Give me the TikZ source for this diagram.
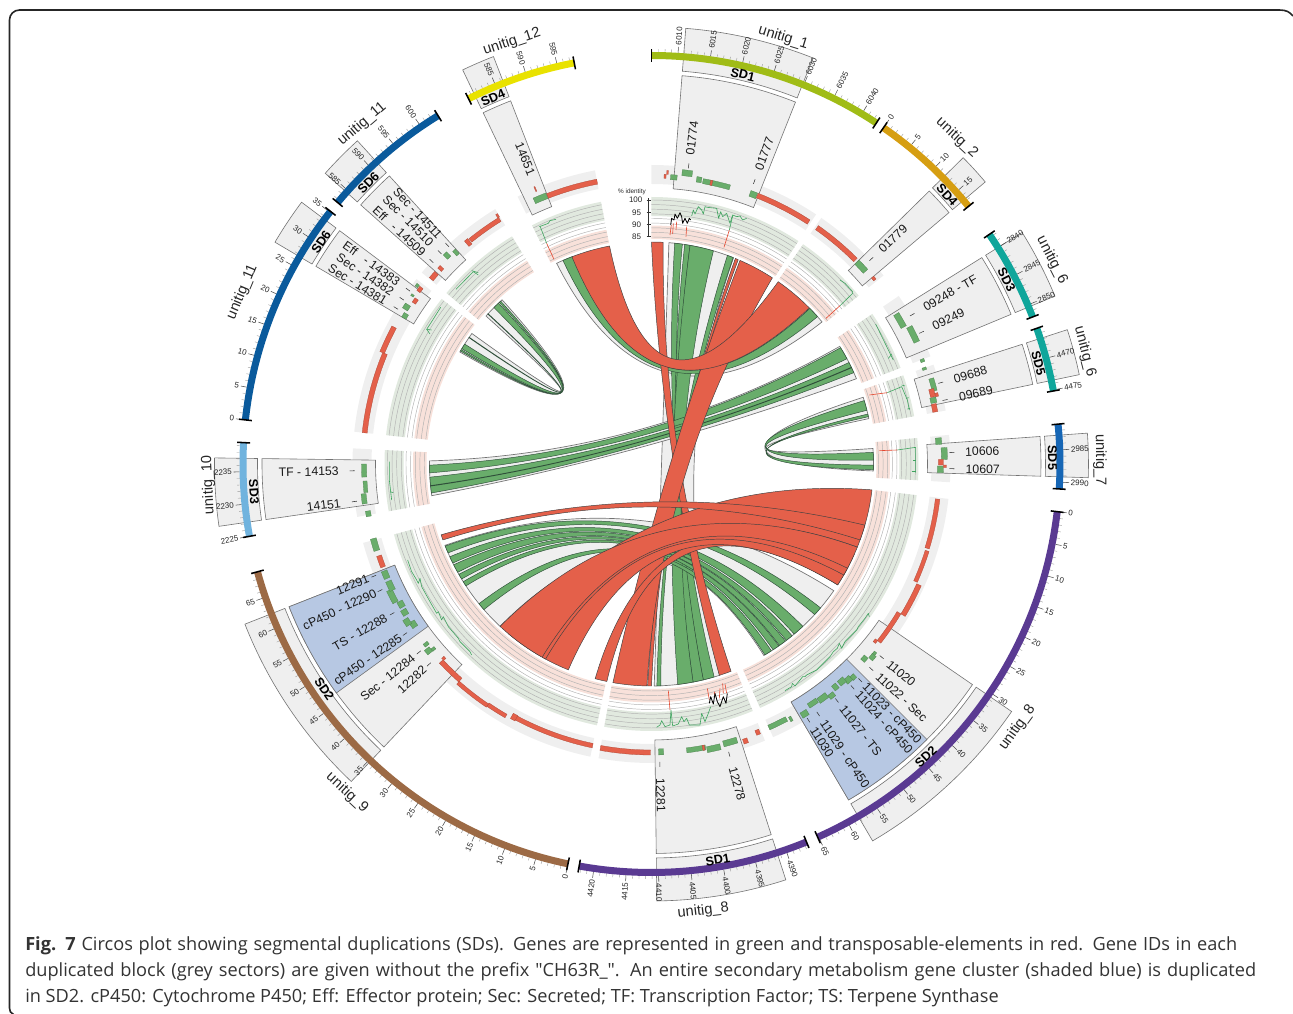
\documentclass[tikz,border=0pt]{standalone}
\usepackage{fontspec}
\setmainfont{Liberation Sans}
\newfontfamily\capfont{Open Sans}
\usetikzlibrary{calc}
\definecolor{gn}{HTML}{69AD6B}
\definecolor{gnd}{HTML}{2F4F3A}
\definecolor{rd}{HTML}{E4604A}
\definecolor{gy}{HTML}{EFEFEF}
\definecolor{bluebox}{HTML}{B7C8E3}
\definecolor{pinkb}{HTML}{F8E1DA}
\definecolor{greenb}{HTML}{E1E9DF}
\definecolor{spg}{HTML}{3FA45F}
\definecolor{spr}{HTML}{E5472E}
\definecolor{cuA}{HTML}{A0BC16}
\definecolor{cuB}{HTML}{D69E12}
\definecolor{cuC}{HTML}{10A69B}
\definecolor{cuD}{HTML}{1666B5}
\definecolor{cuE}{HTML}{5A3A92}
\definecolor{cuF}{HTML}{9C6A45}
\definecolor{cuG}{HTML}{70B3DE}
\definecolor{cuH}{HTML}{0A5A9C}
\definecolor{cuI}{HTML}{E9E200}
\tikzset{
  boxs/.style={fill=gy,draw=black!55,line width=.45pt},
  blueb/.style={fill=bluebox,draw=black!55,line width=.45pt},
  rgrey/.style={fill=gy,draw=black!55,line width=.5pt},
  rgreen/.style={fill=gn,draw=gnd,line width=.35pt},
  rred/.style={fill=rd,draw=black!75,line width=.35pt},
  rline/.style={draw=gnd,line width=.5pt},
  gene/.style={fill=gn,draw=gn!75!black,line width=.2pt},
  tele/.style={fill=rd,draw=rd!75!black,line width=.2pt},
  labt/.style={font=\fontsize{9.2}{10}\selectfont,inner sep=0pt,text=black!90},
  tickl/.style={font=\fontsize{6}{6.5}\selectfont,inner sep=0pt,text=black!85},
  uname/.style={font=\fontsize{11}{12}\selectfont,inner sep=0pt,text=black!85},
  sdn/.style={font=\bfseries\fontsize{9.5}{10}\selectfont,inner sep=0pt},
  sparkg/.style={draw=spg,line width=.45pt,line join=round},
  sparkr/.style={draw=spr,line width=.45pt,line join=round},
  sparkk/.style={draw=black,line width=.6pt,line join=round},
  zoomat/.style 2 args={shift={({#1-651.5},{464-#2})},x=0.25pt,y=-0.25pt},
  capt/.style={anchor=base west,inner sep=0pt,text=black!80,font=\capfont\fontsize{13.64}{15}\selectfont},
}
\def\Rc{222}
\def\Rk{10}
% annular sector a1->a2, radii r1<r2
\newcommand\annu[5]{\path[#1] (#2:#5) arc[start angle=#2,end angle=#3,radius=#5] -- (#3:#4) arc[start angle=#3,end angle=#2,radius=#4] -- cycle;}
% ribbon: style, a1,a2,b1,b2
\newcommand\ribb[5]{%
  \pgfmathsetmacro\mA{(#3+#4)/2}%
  \pgfmathsetmacro\mB{(#2+#5)/2}%
  \path[#1] (#2:\Rc) arc[start angle=#2,end angle=#3,radius=\Rc]
    .. controls ($(#3:\Rc)!0.6667!(\mA:\Rk)$) and ($(#4:\Rc)!0.6667!(\mA:\Rk)$) .. (#4:\Rc)
    arc[start angle=#4,end angle=#5,radius=\Rc]
    .. controls ($(#5:\Rc)!0.6667!(\mB:\Rk)$) and ($(#2:\Rc)!0.6667!(\mB:\Rk)$) .. (#2:\Rc) -- cycle;}
% ideogram: colour,a1,a2,aref,vref
\newcommand\ideo[5]{%
  \foreach \k in {-85,...,85}{%
    \pgfmathsetmacro\aa{#4-0.91*\k}%
    \pgfmathtruncatemacro\inn{(\aa<=#2+0.02 && \aa>=#3-0.02)?1:0}%
    \ifnum\inn=1
      \pgfmathtruncatemacro\mm{mod(abs(\k),5)}%
      \ifnum\mm=0
        \pgfmathtruncatemacro\vv{#5+\k}%
        \draw[black!70,line width=.4pt] (\aa:412) -- (\aa:418);
        \pgfmathtruncatemacro\side{cos(\aa)>=0?1:0}%
        \ifnum\side=1
          \node[tickl,anchor=west,rotate=\aa] at (\aa:419.5) {\vv};
        \else
          \node[tickl,anchor=east,rotate=\aa-180] at (\aa:419.5) {\vv};
        \fi
      \else
        \draw[black!40,line width=.3pt] (\aa:412) -- (\aa:415);
      \fi
    \fi
  }%
  \annu{fill=#1}{#2}{#3}{405}{412}
  \draw[black,line width=1.15pt] (#2:402) -- (#2:415);
  \draw[black,line width=1.15pt] (#3:402) -- (#3:415);
}
\begin{document}
\begin{tikzpicture}[x=0.75pt,y=0.75pt]
\useasboundingbox (-651.5,-550) rectangle (641.5,464);
% frame
\draw[black!85,line width=1.2pt] (-638,-550.5) .. controls (-641,-549) and (-642,-547) .. (-642,-544) -- (-642,444) arc[start angle=180,end angle=90,radius=10] -- (628,454) .. controls (635,454) and (638,452) .. (641.5,448);

% tracks
\foreach \a/\b in {90/56.6,55.4/39.1,34.2/21.1,19.4/10.3,5.6/-3.5,-6.7/-66,-67.7/-100.2,-101.8/-164.7,190.2/177,173.8/141.8,140.2/121.5,116.6/100.9}{
  \annu{fill=gy}{\a}{\b}{280}{299}
  \annu{fill=greenb}{\a}{\b}{248}{267}
  \annu{fill=pinkb}{\a}{\b}{225}{238.5}
  \foreach \r in {227,231.6,236.2,240.9,245.5,250.1,254.8,259.4,264}{
    \draw[black!30,line width=.35pt] (\a:\r) arc[start angle=\a,end angle=\b,radius=\r];
  }
}

% outer + inner grey boxes
\foreach \a/\b in {85.5/68.3,44.5/40.2,32/22.6,17.9/11.8,4.05/-1.8,-34.5/-59.6,-72.1/-89.3,201.5/226.6,179.2/188.2,143.2/149.5,132.3/138.3,111.2/115.6}{
  \annu{boxs}{\a}{\b}{394}{437}
  \annu{boxs}{\a}{\b}{276}{389.5}
}
\annu{blueb}{-45}{-59.6}{276}{389.5}
\annu{blueb}{201.5}{216}{276}{389.5}

% ribbons: grey
\ribb{rgrey}{85.5}{68.3}{-72.1}{-89.3}
\ribb{rgrey}{115.3}{111.2}{44.5}{39.8}
\ribb{rgrey}{32}{22.6}{188.2}{179.2}
\ribb{rgrey}{17.5}{11.8}{4}{-1.8}
\ribb{rgrey}{149.7}{144}{138.2}{132.3}
\ribb{rgrey}{-34.8}{-59.6}{-133}{-158.5}
% ribbons: green
\ribb{rgreen}{84}{82}{-73.6}{-76.5}
\ribb{rgreen}{81.4}{80}{-76.5}{-79.2}
\ribb{rgreen}{80}{73.8}{-79.2}{-83.2}
\ribb{rgreen}{70}{68.4}{-87.6}{-88.6}
\ribb{rgreen}{113.5}{110.8}{44.5}{41.6}
\ribb{rgreen}{31.6}{28.3}{182.3}{180.3}
\ribb{rgreen}{27.2}{24.3}{187.5}{183.4}
\ribb{rline}{25.8}{25.7}{185.7}{185.6}
\ribb{rgreen}{16.6}{14}{3}{1}
\ribb{rgreen}{13}{12.3}{-0.3}{-1.5}
\ribb{rgreen}{148.7}{147.3}{135.2}{133.6}
\ribb{rgreen}{149.4}{149}{133.3}{132.8}
\ribb{rline}{145.3}{145.2}{137.5}{137.4}
\ribb{rgreen}{-40.4}{-42.7}{-156.4}{-158.3}
\ribb{rgreen}{-47}{-50}{-153.5}{-155.3}
\ribb{rgreen}{-50.7}{-52.6}{-150.8}{-153}
\ribb{rgreen}{-52.9}{-54.8}{-148.8}{-150.2}
\ribb{rgreen}{-55}{-56.8}{-146.7}{-148}
\ribb{rgreen}{-57.3}{-59.3}{-139}{-141}
% ribbons: red
\ribb{rred}{90}{87}{-69}{-72.2}
\ribb{rred}{67.8}{67}{-90}{-91}
\ribb{rred}{66.5}{57}{-91.2}{-100}
\ribb{rred}{111}{100.9}{55.2}{44.7}
\ribb{rred}{-24}{-33}{-101.6}{-104.7}
\ribb{rred}{-6.7}{-22}{-120}{-130}
\ribb{rred}{-22}{-33}{-112}{-133}
\ribb{rred}{-28}{-30}{-118.5}{-119.5}
\ribb{rred}{-16}{-20}{-160}{-161.4}

% genes
\foreach \a/\b/\r/\s in {86.2/84.9/285/290,84/82/290/296,81/80/285.5/291,79.7/74.2/285/290,70/68.6/285/291,44.5/42/285/291,
 31.5/28.5/284/290,28/24.7/289/295,21.2/20.6/288/292,19.5/19/287/291,17/14.5/290/295,13.3/12.2/286/292,5.2/3.9/285/291,3.2/0.9/290/296,-0.4/-1.7/286/292,
 -40/-40.8/291/294,-40.6/-41.7/291/296,-41.9/-43/286/291,-46.1/-47/291/296,-47/-48.3/289/295,-48.1/-49.5/286/292,-50/-51/286/292,-51.5/-52.7/291/296,-52.8/-54.8/287/293,-55/-57/286/291,-57.8/-59.2/290/296,-61.1/-61.6/288/293,-62.1/-66/286/291,
 -72.8/-75.6/286/292,-76.3/-79/288/294,-79.2/-83/286/291,-87.6/-88.6/285/291,
 220.6/220/284/288,219/218.3/286/291,220.5/219.4/288/294,214.6/213.3/284/290,213.6/212.2/288/294,211.6/210.4/285/291,209.9/208.6/284/290,208.4/205.7/288/294,206/204/285/291,203.4/201.8/285/291,197.5/195/285/291,
 190.5/189.4/285/290,187.9/185.9/287/292,185.7/183.4/285/289,182.6/180/285/290,
 149.5/148.5/285/290,147.9/146.8/288/294,145/144.6/291/294,143/142.4/293/296,134.9/134/289/295,133.1/132.4/285/291,114/111.3/285/291}{
  \annu{gene}{\a}{\b}{\r}{\s}
}
% transposable elements
\foreach \a/\b/\r/\s in {87.5/87.1/286/290,87/86.7/290/294,78.2/77.8/285/290,68.5/57/286/291,55/45/286/291,40.2/39.5/288/291,15/13.4/287/292,14/13.3/292/295,12/10.4/286/291,0.9/-0.2/287/292,-0.2/-0.7/292/295,
 -7/-17/286/290.5,-17.5/-24/287/291,-24.3/-31/291/296,-31/-38/286.5/291,-38/-38.7/284/287,-68/-68.8/286/291,-70.8/-71.7/290/295,-79.4/-79.8/286/291,-90.2/-100.2/286/291,
 -101.8/-118.3/285.5/290,242/241/285/291,240/235.8/289/293,235.8/228.5/290/294,228.5/223.2/286/291,223.4/222.8/283/286,201/198.6/285/290,
 173.8/157.5/286/291,157.5/152/289/294,145.9/144.9/285/289,143.5/142.5/288/292,140/138.4/285/290,137.5/136.8/285/290,130/129.2/284/291,129/121.8/285.5/290,122/121.6/290/294,111.2/100.9/285/290,113/112.8/296/301}{
  \annu{tele}{\a}{\b}{\r}{\s}
}

% identity sparklines (drawn in the crop coordinates they were read from)
\begin{scope}[zoomat={450}{10}]
  \draw[sparkg] plot coordinates {(725,618)(730,600)(735,612)(745,590)(755,600)(760,612)(765,590)(772,592)(800,595)(806,625)(812,605)(818,620)(830,610)(840,640)(848,615)(860,620)(870,618)(878,630)(890,625)};
  \draw[sparkg] (848,618) -- (838,660);
  \draw[sparkr] (838,660) -- (822,712);
  \draw[sparkr] (664,645) -- (660,675) (670,640) -- (668,672) (680,635) -- (678,660) (710,650) -- (708,680);
  \draw[sparkk] plot coordinates {(662,645)(665,625)(672,630)(675,612)(682,625)(690,608)(695,620)(698,640)(705,625)(712,640)(718,625)(722,630)};
  \draw[sparkg] plot coordinates {(268,650)(295,640)(300,632)(318,628)};
  \draw[sparkg] (270,648) -- (290,700);
  \draw[sparkr] (290,700) -- (312,748);
  % axis
  \draw[black!80,line width=.5pt] (596,565) -- (596,680);
  \foreach \y in {570,607,643,680}{\draw[black!80,line width=.5pt] (590,\y) -- (602,\y);}
  \node[tickl,anchor=east] (ax100) at (578,570) {100};
  \node[tickl,anchor=east] (ax95) at (574,607) {95};
  \node[tickl,anchor=east] (ax90) at (574,643) {90};
  \node[tickl,anchor=east] (ax85) at (574,680) {85};
  \node[font=\fontsize{4.8}{5}\selectfont,inner sep=0pt,text=black!85] (axn) at (546,545) {\% identity};
\end{scope}
\begin{scope}[zoomat={800}{100}]
  \draw[sparkg] plot coordinates {(120,540)(135,550)(158,575)(158,580)(120,617)};
  \draw[sparkr] (120,617) -- (78,655);
  \draw[sparkg] plot coordinates {(227,672)(270,760)(280,780)};
  \draw[sparkg] (265,775) -- (275,763);
  \draw[sparkr] (208,885) -- (262,878);
  \draw[sparkg] plot coordinates {(262,878)(305,860)(322,900)(328,930)};
  \draw[sparkg] (305,855) -- (315,858) (318,895) -- (326,893) (322,927) -- (330,925);
  \draw[sparkr] (238,1052) -- (292,1050);
  \draw[sparkg] plot coordinates {(292,1050)(347,1042)(347,1118)};
  \draw[sparkg] (340,1080) -- (347,1080) (335,1115) -- (347,1115);
\end{scope}
\begin{scope}[zoomat={230}{420}]
  \draw[sparkg] plot coordinates {(478,125)(478,180)(485,240)};
  \draw[sparkg] (480,215) -- (490,218);
  \draw[sparkg] plot coordinates {(533,420)(545,455)(560,480)(565,490)(570,475)(575,500)(600,545)(620,580)(625,575)(635,600)(640,590)(650,610)(655,620)(685,655)(690,665)(720,695)(725,705)};
\end{scope}
\begin{scope}[zoomat={200}{100}]
  \draw[sparkg] plot coordinates {(722,622)(695,665)(680,688)(690,702)};
  \draw[sparkg] (680,688) -- (695,690);
  \draw[sparkg] plot coordinates {(768,568)(820,515)(835,525)};
  \draw[sparkg] (815,512) -- (835,518);
\end{scope}
\begin{scope}[zoomat={750}{500}]
  \draw[sparkg] plot coordinates {(105,572)(125,560)(127,550)(135,558)(150,540)(158,530)(165,530)(170,525)(200,510)(240,470)(250,455)(262,445)(268,430)(275,445)(285,425)(320,390)(325,380)(345,355)(355,340)(358,350)};
\end{scope}
\begin{scope}[zoomat={500}{480}]
  \draw[sparkr] (505,632) -- (510,690) (622,625) -- (628,660) (643,635) -- (645,650) (660,625) -- (658,655) (668,610) -- (670,640) (675,612) -- (680,640);
  \draw[sparkg] plot coordinates {(470,742)(480,735)(485,722)(495,740)(510,735)(513,690)(518,738)(535,732)(545,710)(552,725)(560,715)(568,735)(600,735)(605,700)(615,725)(625,700)(632,680)};
  \draw[sparkk] plot coordinates {(628,670)(632,650)(640,672)(645,640)(652,665)(660,680)(670,650)(678,670)(682,640)};
\end{scope}

% ideograms
\ideo{cuA}{90}{56.6}{86.3}{6010}
\ideo{cuB}{55.4}{39.1}{55.4}{0}
\ideo{cuC}{34.2}{21.1}{32}{2840}
\ideo{cuC}{19.4}{10.3}{15}{4470}
\ideo{cuD}{5.6}{-3.5}{2}{2985}
\ideo{cuE}{-6.7}{-66}{-6.7}{0}
\ideo{cuE}{-67.7}{-100.2}{-70.8}{4390}
\ideo{cuF}{-101.8}{-164.7}{-101.8}{0}
\ideo{cuG}{190.2}{177}{190.2}{2225}
\ideo{cuH}{173.8}{141.8}{173.8}{0}
\ideo{cuH}{140.2}{121.5}{138}{585}
\ideo{cuI}{116.6}{100.9}{112.4}{585}

% unitig names
\node[uname,rotate=-17.2] (nA) at (72.8:446) {unitig\_1};
\node[uname,rotate=18.3] (nB) at (108.3:444.5) {unitig\_12};
\node[uname,rotate=-43] (nC) at (46.9:447) {unitig\_2};
\node[uname,rotate=-63] (nD) at (27:449.5) {unitig\_6};
\node[uname,rotate=-75.5] (nE) at (14.5:447.7) {unitig\_6};
\node[uname,rotate=-89.5] (nF) at (0.5:448.5) {unitig\_7};
\node[uname,rotate=54.2] (nG) at (-35.8:451) {unitig\_8};
\node[uname,rotate=6.6] (nH) at (-83.4:450) {unitig\_8};
\node[uname,rotate=-43] (nI) at (227.2:448) {unitig\_9};
\node[uname,rotate=92.7] (nJ) at (182.7:443.5) {unitig\_10};
\node[uname,rotate=67.2] (nK) at (157.2:444) {unitig\_11};
\node[uname,rotate=40.4] (nL) at (130.4:446.5) {unitig\_11};

% SD names
\node[sdn,rotate=-13.2] (sA) at (76.8:400) {SD1};
\node[sdn,rotate=23.4] (sB) at (113.4:399) {SD4};
\node[sdn,rotate=-47.7] (sC) at (42.3:399.6) {SD4};
\node[sdn,rotate=-62.6] (sD) at (27.4:400) {SD3};
\node[sdn,rotate=-75.4] (sE) at (14.6:400) {SD5};
\node[sdn,rotate=-89.1] (sF) at (0.9:401) {SD5};
\node[sdn,rotate=43.1] (sG) at (-46.9:401.5) {SD2};
\node[sdn,rotate=9.5] (sH) at (-80.5:401.5) {SD1};
\node[sdn,rotate=-55.5] (sI) at (214.5:397) {SD2};
\node[sdn,rotate=-86] (sJ) at (184:398.5) {SD3};
\node[sdn,rotate=56.1] (sK) at (146.1:398) {SD6};
\node[sdn,rotate=45.2] (sL) at (135.2:399) {SD6};

% gene labels reading outward
\foreach \a/\r/\tx [count=\i] in {82.9/311/01774,70/312.7/01777,43/313/01779,29.8/314/09248 - TF,26/313/09249,15.7/314/09688,12.3/314.7/09689,2.2/313.7/10606,-0.9/314/10607,
  -40/309/11020,-43/309/11022 - Sec,-46/307/11023 - cP450,-48/308/11024 - cP450,-51.9/309/11027 - TS,-56.3/309/11029 - cP450,-58.5/309.5/11030,-75/313.8/12278,-88.4/314/12281}{
  \node[labt,anchor=west,rotate=\a] (ro\i) at (\a:\r) {\tx};
  \draw[black!80,line width=.4pt] (\a:298) -- (\a:303);
}
% gene labels reading inward
\foreach \a/\r/\tx [count=\i] in {202/305/12291,205/304/cP450 - 12290,210/306/TS - 12288,214.6/304.4/cP450 - 12285,219/306/Sec - 12284,222/305/12282,
  181.3/312.6/TF - 14153,187.2/313/14151,144.4/310.7/Eff\ \ \ - 14383,146.5/310/Sec - 14382,148.6/311/Sec - 14381,133/310/Sec - 14511,135/310.8/Sec - 14510,137.3/309.6/Eff\ \ \ - 14509,112.5/312.7/14651}{
  \node[labt,anchor=east,rotate=\a-180] (ri\i) at (\a:\r) {\tx};
}
\foreach \a in {202,205,210,214.6,219,222,181.3,187.2,144.4,146.5,148.6,133,135,137.3}{
  \draw[black!80,line width=.4pt] (\a:297) -- (\a:302);
}

% caption
\node[capt] (capA) at (-626.5,-486) {\hbox to 909pt{{\bfseries Fig. 7} Circos plot showing segmental duplications (SDs). Genes are represented in green and transposable-elements in red. Gene IDs in each}};
\node[capt] (capB) at (-626.5,-512) {\hbox to 923.2pt{duplicated block (grey sectors) are given without the prefix "CH63R\_". An entire secondary metabolism gene cluster (shaded blue) is duplicated}};
\node[capt] (capC) at (-626.5,-538.5) {in SD2. cP450: Cytochrome P450; Eff: Effector protein; Sec: Secreted; TF: Transcription Factor; TS: Terpene Synthase};
\end{tikzpicture}
\end{document}
